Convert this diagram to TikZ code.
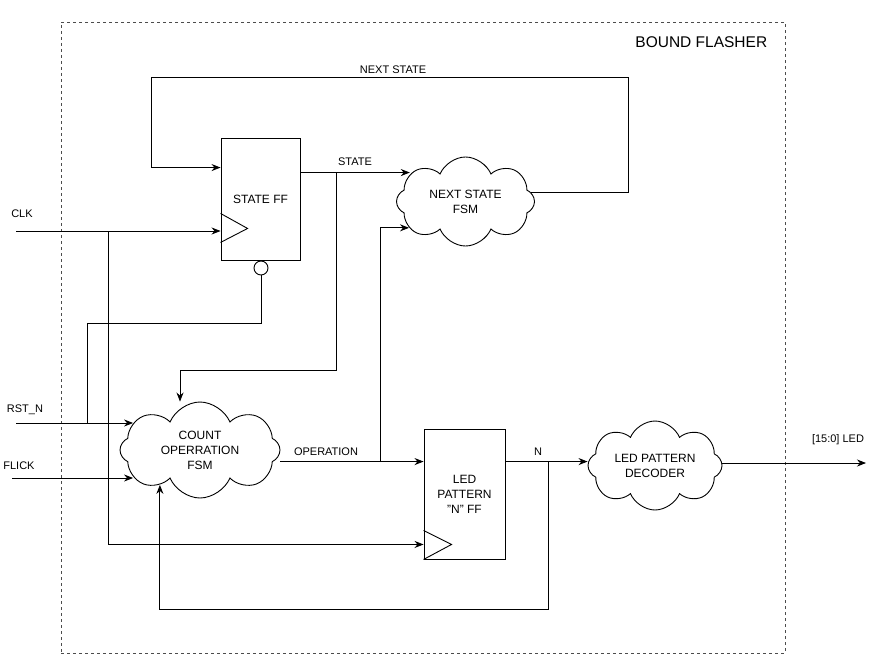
\documentclass[tikz,border=0pt]{standalone}
\usepackage{fontspec}
\setmainfont{Liberation Sans}
\usetikzlibrary{shapes.geometric, shapes.symbols, arrows, arrows.meta, positioning, calc}

\begin{document}
\begin{tikzpicture}[x=1pt, y=-1pt, line width=0.9pt,
    ffbox/.style={draw, rectangle, align=center, font=\fontsize{12}{15}\selectfont},
    fsm/.style={draw, cloud, cloud puffs=8, cloud puff arc=135, cloud ignores aspect, align=center, inner sep=0pt, font=\fontsize{12}{15}\selectfont},
    lbl/.style={font=\fontsize{11}{13}\selectfont, inner sep=0pt},
    wire/.style={-{Stealth[length=9pt, width=7pt]}}]
    \useasboundingbox (0,0) rectangle (882,661);

    % Top module frame
    \node[draw, dashed, dash pattern=on 3pt off 3pt, black!70, minimum width=724, minimum height=631] (top) at (423,337.5) {};
    \node[font=\fontsize{15.5}{18}\selectfont, anchor=east] (title) at (771,42) {BOUND FLASHER};

    % Flip-flops
    \node[ffbox, minimum width=79, minimum height=122] (sff) at (260.5,199) {STATE FF};
    \draw ($(sff.south west)+(0,-47)$) -- ++(27,15) -- ++(-27,14);
    \node[draw, circle, minimum size=14, inner sep=0pt] (bubble) at (261,268) {};

    \node[ffbox, minimum width=81, minimum height=130] (nff) at (464.5,494) {LED\\PATTERN\\\symbol{34}N\symbol{34} FF};
    \draw ($(nff.south west)+(0,-29)$) -- ++(28,14) -- ++(-28,15);

    % FSM clouds
    \node[fsm, minimum width=138, minimum height=89] (nsfsm) at (465.5,201.5) {NEXT STATE\\FSM};
    \node[fsm, minimum width=160, minimum height=96] (cofsm) at (200,450) {COUNT\\OPERRATION\\FSM};
    \node[fsm, minimum width=134, minimum height=89] (dec) at (655,465.5) {LED PATTERN\\DECODER};

    % Ports and junctions
    \coordinate (clkin) at (16,231);
    \coordinate (rstin) at (16,423);
    \coordinate (flickin) at (12,478);
    \coordinate (ledout) at (866,463);
    \coordinate (sffns) at ($(sff.north west)+(0,30)$);
    \coordinate (sffq) at ($(sff.north east)+(0,35)$);
    \coordinate (nffd) at ($(nff.north west)+(0,33)$);
    \coordinate (nffq) at ($(nff.north east)+(0,33)$);
    \coordinate (nffclk) at ($(nff.south west)+(0,-15)$);
    \coordinate (clkj) at (108,231);
    \coordinate (rstj) at (87,423);
    \coordinate (statej) at (336,173);
    \coordinate (opj) at (380,462);
    \coordinate (nj) at (548,462);

    % Inputs
    \draw[wire] (clkin) -- (clkin -| sff.west);
    \node[lbl] (clklbl) at (22,214) {CLK};
    \draw[wire] (clkj) |- (nffclk);
    \draw[wire] (rstin) -- (rstin -| cofsm.158);
    \node[lbl] (rstlbl) at (25,410) {RST\_N};
    \draw (rstj) -- ++(0,-100) -| (bubble.south);
    \draw[wire] (flickin) -- (flickin -| cofsm.202);
    \node[lbl] (flicklbl) at (19,466) {FLICK};

    % State loop
    \draw[wire] (nsfsm.8) -| (628,77) -| ($(sffns)+(-69,0)$) -- (sffns);
    \node[lbl] (nslbl) at (393,70) {NEXT STATE};
    \draw[wire] (sffq) -- (sffq -| nsfsm.154);
    \node[lbl] (statelbl) at (355,162) {STATE};
    \draw[wire] (statej) -- ++(0,197) -| ([xshift=-20pt]cofsm.north);

    % Operation and N
    \draw[wire] (nffd -| cofsm.east) -- (nffd);
    \node[lbl] (oplbl) at (326,452) {OPERATION};
    \draw[wire] (opj) |- (nsfsm.205);
    \draw[wire] (nffq) -- (nffq -| dec.west);
    \node[lbl] (nlbl) at (538,452) {N};
    \draw[wire] (nj) -- ++(0,147) -| (cofsm.221);

    % Output
    \draw[wire] (ledout -| dec.east) -- (ledout);
    \node[lbl] (ledlbl) at (838,440) {[15:0] LED};
\end{tikzpicture}
\end{document}
